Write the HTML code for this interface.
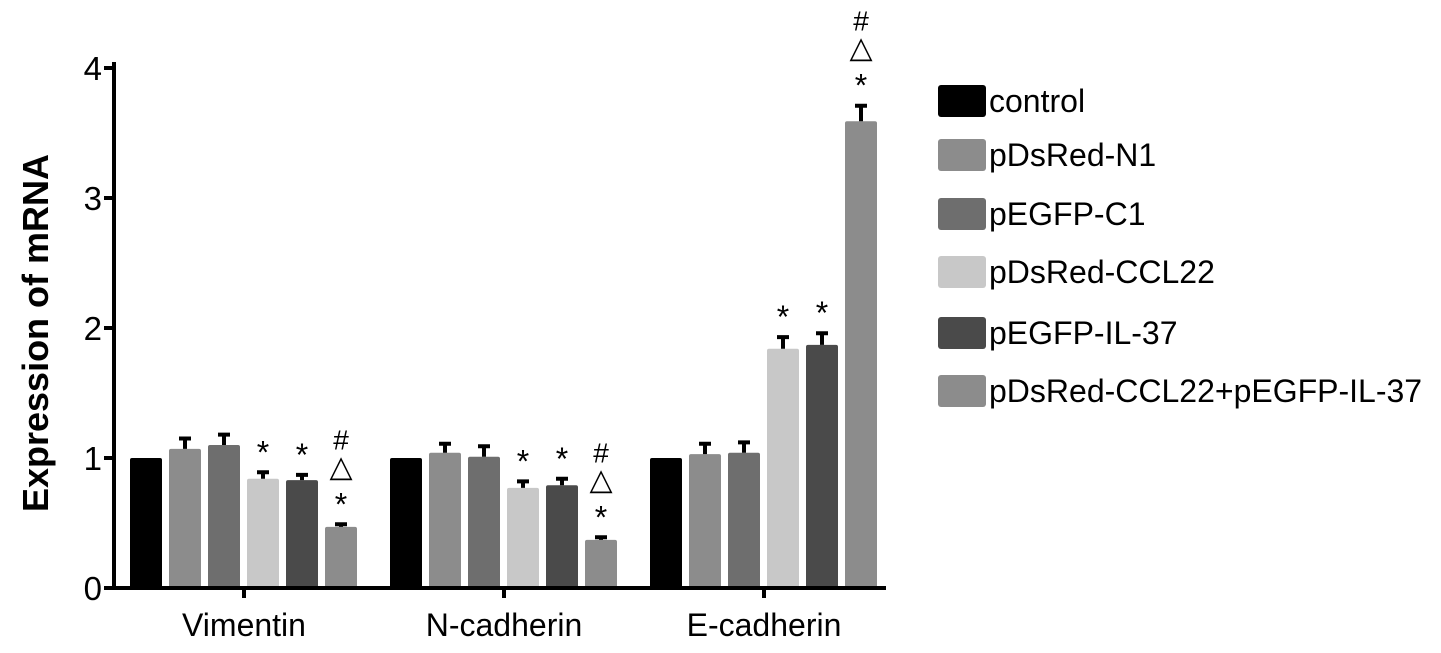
<!DOCTYPE html>
<html><head><meta charset="utf-8"><style>
body{margin:0;background:#fff;}
svg text{font-family:"Liberation Sans",Arial,sans-serif;}
</style></head><body>
<svg id="chart" width="1441" height="648" viewBox="0 0 1441 648" xmlns="http://www.w3.org/2000/svg"></svg>
<script>
const categories = ["Vimentin", "N-cadherin", "E-cadherin"];
const seriesNames = ["control", "pDsRed-N1", "pEGFP-C1", "pDsRed-CCL22", "pEGFP-IL-37", "pDsRed-CCL22+pEGFP-IL-37"];
const vimentinValues = [1, 1.07, 1.1, 0.84, 0.83, 0.47];
const ncadherinValues = [1, 1.04, 1.01, 0.77, 0.79, 0.37];
const ecadherinValues = [1, 1.03, 1.04, 1.84, 1.87, 3.59];
const vimentinErrors = [0, 0.08, 0.08, 0.05, 0.04, 0.02];
const ncadherinErrors = [0, 0.07, 0.08, 0.05, 0.05, 0.02];
const ecadherinErrors = [0, 0.08, 0.08, 0.09, 0.09, 0.12];
const vimentinMarks = ["", "", "", "*", "*", "*△#"];
const ncadherinMarks = ["", "", "", "*", "*", "*△#"];
const ecadherinMarks = ["", "", "", "*", "*", "*△#"];
const yTicks = [0, 1, 2, 3, 4];

const colors = ["#000000", "#8c8c8c", "#6e6e6e", "#c8c8c8", "#4a4a4a", "#8c8c8c"];
const values = [vimentinValues, ncadherinValues, ecadherinValues];
const errors = [vimentinErrors, ncadherinErrors, ecadherinErrors];
const marks = [vimentinMarks, ncadherinMarks, ecadherinMarks];
const svg = document.getElementById('chart');
const NS = "http://www.w3.org/2000/svg";
const y0 = 588, pxPerUnit = 130, axisX = 114;
const yScale = v => y0 - v * pxPerUnit;
const groupCenter = i => 244 + i * 260;
const barX = (g, s) => groupCenter(g) - 114 + s * 39;
const barW = 32;
function mk(tag, attrs, text) {
  const e = document.createElementNS(NS, tag);
  for (const k in attrs) e.setAttribute(k, attrs[k]);
  if (text !== undefined) e.textContent = text;
  svg.appendChild(e);
  return e;
}
const markOffset = {'*': -27, '△': -57, '#': -85};
const markSize = {'*': 32, '△': 30, '#': 28};
const markBase = {'*': 18, '△': 9, '#': 10};
values.forEach((arr, g) => {
  arr.forEach((v, s) => {
    const x = barX(g, s);
    const r = mk('rect', {x: x, y: yScale(v), width: barW, height: y0 - yScale(v), fill: colors[s], rx: 2});
    
    
    const e = errors[g][s];
    const cx = x + barW / 2;
    if (e > 0) {
      const eb = mk('path', {d: `M${cx},${yScale(v)} V${yScale(v + e)} M${cx - 6},${yScale(v + e)} H${cx + 6}`, stroke: '#000', 'stroke-width': 4, fill: 'none'});
      
      
    }
    const m = marks[g][s];
    const top = yScale(v + e);
    for (const ch of m) {
      const t = mk('text', {x: cx, y: top + markOffset[ch] + markBase[ch], 'text-anchor': 'middle', 'font-size': markSize[ch], fill: '#000'}, ch);
      
      
    }
  });
});
const ya = mk('line', {x1: axisX, y1: 62, x2: axisX, y2: y0 + 2, stroke: '#000', 'stroke-width': 4});


const xa = mk('line', {x1: axisX - 2, y1: y0, x2: 886, y2: y0, stroke: '#000', 'stroke-width': 4});


yTicks.forEach(v => {
  const tk = mk('line', {x1: axisX - 10, y1: yScale(v), x2: axisX, y2: yScale(v), stroke: '#000', 'stroke-width': 4});
  
  
  const t = mk('text', {x: axisX - 12, y: yScale(v) + 12, 'text-anchor': 'end', 'font-size': 33, fill: '#000'}, String(v));
  
  
});
categories.forEach((c, g) => {
  const tk = mk('line', {x1: groupCenter(g), y1: y0, x2: groupCenter(g), y2: y0 + 10, stroke: '#000', 'stroke-width': 4});
  
  
  const t = mk('text', {x: groupCenter(g), y: 636, 'text-anchor': 'middle', 'font-size': 32, fill: '#000'}, c);
  
  
});
const yl = mk('text', {x: 0, y: 0, transform: 'translate(48,333) rotate(-90)', 'text-anchor': 'middle', 'font-size': 36, 'font-weight': 'bold', fill: '#000'}, 'Expression of mRNA');


const legendY = [101, 155, 214, 272, 333, 391];
seriesNames.forEach((n, i) => {
  const cy = legendY[i];
  const r = mk('rect', {x: 938, y: cy - 16, width: 48, height: 32, rx: 3, fill: colors[i]});
  
  
  const t = mk('text', {x: 989, y: cy + 11, 'font-size': 32, fill: '#000'}, n);
  
  
});
</script>
</body></html>
